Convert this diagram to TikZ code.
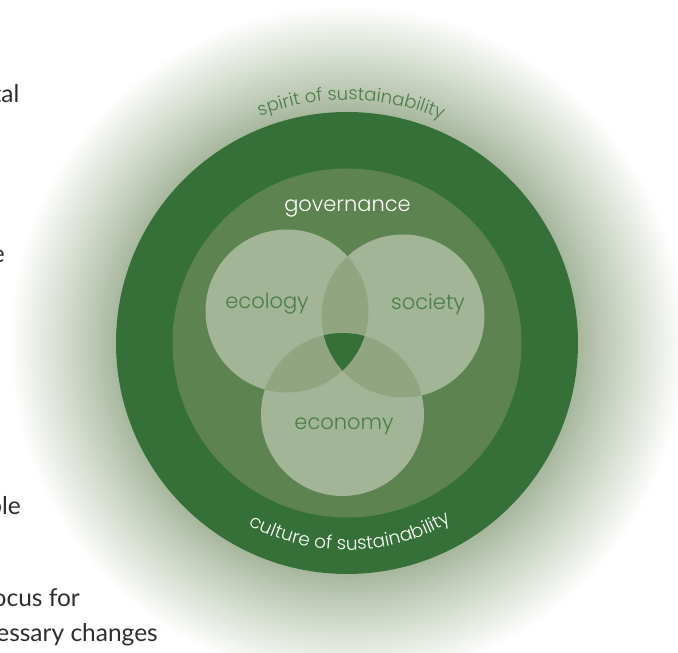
\documentclass[tikz,border=0pt]{standalone}
\usepackage{fontspec}
\setmainfont{Lato}
\newfontfamily\gothic{Poppins}[UprightFont=* Light]
\usepackage{tikz}
\usepackage{tkz-euclide}
\usetikzlibrary{calc,decorations.text}

\definecolor{ringgreen}{RGB}{52,112,56}
\definecolor{govgreen}{RGB}{93,131,80}
\definecolor{pillar}{RGB}{163,181,151}
\definecolor{pairlap}{RGB}{144,165,128}
\definecolor{pillartext}{RGB}{75,125,70}
\definecolor{glowA}{RGB}{168,184,158}
\definecolor{glowB}{RGB}{190,202,182}
\definecolor{glowC}{RGB}{214,222,209}
\definecolor{glowD}{RGB}{238,241,235}
\pgfdeclareradialshading{glow}{\pgfpoint{0bp}{0bp}}{color(0bp)=(glowA);color(17.2bp)=(glowA);color(19bp)=(glowB);color(21.2bp)=(glowC);color(23.4bp)=(glowD);color(25bp)=(white);color(50bp)=(white)}

\tikzset{
  pillarlabel/.style={font=\gothic\fontsize{21}{24}\selectfont,text=pillartext,inner sep=0pt},
  sidetext/.style={font=\fontsize{24.5}{28}\selectfont,text=black!82,anchor=base east,inner sep=0pt}
}

\begin{document}
\begin{tikzpicture}[x=1pt,y=1pt]
        \useasboundingbox (0,0) rectangle (678,653);
        \clip (0,0) rectangle (678,653);
        \tkzDefPoint(347,310){O}
        \tkzDefPoint(287,342){E}
        \tkzDefPoint(403,337){S}
        \tkzDefPoint(342.5,238.5){K}
        \shade[shading=glow] (O) circle (338pt);
        \fill[ringgreen] (O) circle (231pt);
        \fill[govgreen] (O) circle (174.5pt);
        \foreach \c in {E,S,K}
          \fill[pillar] (\c) circle (81.5pt);
        \begin{scope}
          \clip (E) circle (81.5pt);
          \fill[pairlap] (S) circle (81.5pt);
          \fill[pairlap] (K) circle (81.5pt);
        \end{scope}
        \begin{scope}
          \clip (S) circle (81.5pt);
          \fill[pairlap] (K) circle (81.5pt);
        \end{scope}
        \begin{scope}
          \clip (E) circle (81.5pt);
          \clip (S) circle (81.5pt);
          \fill[ringgreen] (K) circle (81.5pt);
        \end{scope}
        % \tkzDrawPoints(O,E,S,K)
        \node[pillarlabel,text=white] (gov) at (347.5,445) {governance};
        \node[pillarlabel] (eco) at (267,349) {ecology};
        \node[pillarlabel] (soc) at (428,349) {society};
        \node[pillarlabel] (econ) at (344,227) {economy};
        \path[decorate,decoration={text along path,text align=center,
          text={|\gothic\fontsize{18}{20}\selectfont\color{pillartext}|spirit of sustainability}}]
          ($(O)+(112:243pt)$) arc (112:66:243pt);
        \path[decorate,decoration={text along path,text align=center,
          text={|\gothic\fontsize{18.5}{20}\selectfont\color{white}|culture of sustainability}}]
          ($(O)+(243:207pt)$) arc (243:299:207pt);
        \node[sidetext] (t1) at (19.5,550) {tal};
        \node[sidetext] (t2) at (5,390) {e};
        \node[sidetext] (t3) at (21,138) {ble};
        \node[sidetext] (t4) at (80,46) {ocus for};
        \node[sidetext] (t5) at (158,11.3) {essary changes};
      \end{tikzpicture}
\end{document}
